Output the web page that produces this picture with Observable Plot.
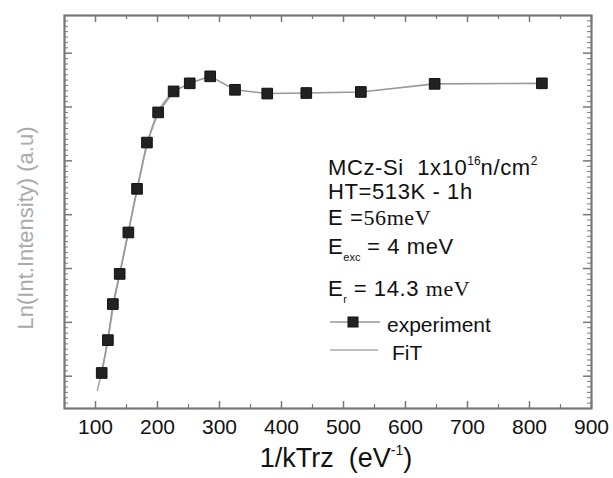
<!DOCTYPE html>
<html>
<head>
<meta charset="utf-8">
<script src="https://cdn.jsdelivr.net/npm/d3@7"></script>
<script src="https://cdn.jsdelivr.net/npm/@observablehq/plot@0.6"></script>
<style>
  html, body { margin: 0; padding: 0; background: #fff; }
  #wrap { position: relative; width: 613px; height: 478px; font-family: "Liberation Sans", Arial, sans-serif; }
  .ann { position: absolute; left: 328px; font-size: 22px; letter-spacing: 0.6px; color: #111; white-space: nowrap; line-height: 1; }
  .ann sup { font-size: 12px; vertical-align: 10px; letter-spacing: 0; }
  .ann sub { font-size: 11px; vertical-align: -7px; letter-spacing: 0; }
  .serif { font-family: "Liberation Serif", "Times New Roman", serif; }
  .leg { position: absolute; font-size: 21px; color: #111; white-space: nowrap; line-height: 1; }
  #ylab { position: absolute; left: 26px; top: 228px; transform: translate(-50%, -50%) rotate(-90deg); font-size: 22px; color: #aaa; white-space: nowrap; }
  #xlab { position: absolute; left: 336px; top: 442px; transform: translateX(-50%); font-size: 27px; color: #111; white-space: nowrap; }
  #xlab sup { font-size: 14px; vertical-align: 12px; }
</style>
</head>
<body>
<div id="wrap"></div>
<script>
// Experimental points: 1/kT (eV^-1) and Ln(intensity) in arbitrary units
const xValues = [110, 120, 128, 139, 153, 167, 183, 201, 226, 252, 285, 325, 377, 440, 528, 647, 820];
const yValues = [0.06, 0.67, 1.34, 1.90, 2.67, 3.48, 4.34, 4.90, 5.29, 5.44, 5.57, 5.32, 5.25, 5.26, 5.28, 5.43, 5.44];
// Fit curve
const fitX = [103, 110, 120, 130, 140, 150, 160, 170, 180, 190, 200, 210, 220];
const fitY = [-0.26, 0.08, 0.68, 1.38, 1.95, 2.52, 3.08, 3.62, 4.15, 4.58, 4.88, 5.08, 5.22];
// Tick labels
const xTickLabels = [100, 200, 300, 400, 500, 600, 700, 800, 900];
const xMinorTicks = [50, 150, 250, 350, 450, 550, 650, 750, 850];
const yMajorTicks = [0, 1, 2, 3, 4, 5, 6];

const W = 613, H = 478, mL = 64, mR = 22, mT = 15, mB = 70;
const innerW = W - mL - mR, innerH = H - mT - mB;

const exp = xValues.map((x, i) => ({x, y: yValues[i]}));
const fit = fitX.map((x, i) => ({x, y: fitY[i]}));
const yMinorTicks = d3.range(-5, 67).map(d => d / 10).filter(d => Math.abs(d - Math.round(d)) > 1e-6);

const tickColor = "#777";
const plot = Plot.plot({
  width: W, height: H,
  marginLeft: mL, marginRight: mR, marginTop: mT, marginBottom: mB,
  x: {domain: [50, 900]},
  y: {domain: [-0.6, 6.7], axis: null},
  style: {fontFamily: "'Liberation Sans', Arial, sans-serif", background: "white", color: "#111"},
  marks: [
    Plot.tickX(xTickLabels, {x: d => d, insetTop: innerH - 7, stroke: tickColor, strokeWidth: 1.5}),
    Plot.tickX(xTickLabels, {x: d => d, insetBottom: innerH - 7, stroke: tickColor, strokeWidth: 1.5}),
    Plot.tickX(xMinorTicks, {x: d => d, insetTop: innerH - 4, stroke: tickColor, strokeWidth: 1.2}),
    Plot.tickX(xMinorTicks, {x: d => d, insetBottom: innerH - 4, stroke: tickColor, strokeWidth: 1.2}),
    Plot.tickY(yMajorTicks, {y: d => d, insetRight: innerW - 8, stroke: tickColor, strokeWidth: 1.5}),
    Plot.tickY(yMajorTicks, {y: d => d, insetLeft: innerW - 8, stroke: tickColor, strokeWidth: 1.5}),
    Plot.tickY(yMinorTicks, {y: d => d, insetRight: innerW - 4, stroke: tickColor, strokeWidth: 1}),
    Plot.tickY(yMinorTicks, {y: d => d, insetLeft: innerW - 4, stroke: tickColor, strokeWidth: 1}),
    Plot.line(fit, {x: "x", y: "y", stroke: "#aaa", strokeWidth: 1.6, curve: "natural"}),
    Plot.line(exp, {x: "x", y: "y", stroke: "#999", strokeWidth: 1.6}),
    Plot.dot(exp, {x: "x", y: "y", symbol: "square", r: 6, fill: "#222", stroke: "#111", strokeWidth: 1}),
    Plot.frame({stroke: tickColor, strokeWidth: 2.2}),
    Plot.axisX(xTickLabels, {tickSize: 0, tickPadding: 11, fontSize: 21, fill: "#111", label: null})
  ]
});
const wrap = document.getElementById("wrap");
wrap.appendChild(plot);

const html = `
  <div id="ylab">Ln(Int.Intensity) (a.u)</div>
  <div id="xlab">1/kTrz&nbsp; (eV<sup>-1</sup>)</div>
  <div class="ann" style="top:155px">MCz-Si&nbsp; 1x10<sup>16</sup>n/cm<sup>2</sup></div>
  <div class="ann" style="top:181px">HT=513K - 1h</div>
  <div class="ann" style="top:207px">E =<span class="serif">56meV</span></div>
  <div class="ann" style="top:236px">E<sub>exc</sub> = 4 meV</div>
  <div class="ann" style="top:278px">E<sub>r</sub> = 14.3 <span class="serif">meV</span></div>
  <svg style="position:absolute;left:0;top:0;pointer-events:none" width="613" height="478">
    <line x1="330" x2="380" y1="322" y2="322" stroke="#999" stroke-width="1.6"/>
    <rect x="348" y="317" width="10" height="10" fill="#222" stroke="#111"/>
    <line x1="330" x2="378" y1="350" y2="350" stroke="#aaa" stroke-width="1.6"/>
  </svg>
  <div class="leg" style="left:387px;top:314px">experiment</div>
  <div class="leg" style="left:392px;top:342px">FiT</div>
`;
wrap.insertAdjacentHTML("beforeend", html);
</script>
</body>
</html>
